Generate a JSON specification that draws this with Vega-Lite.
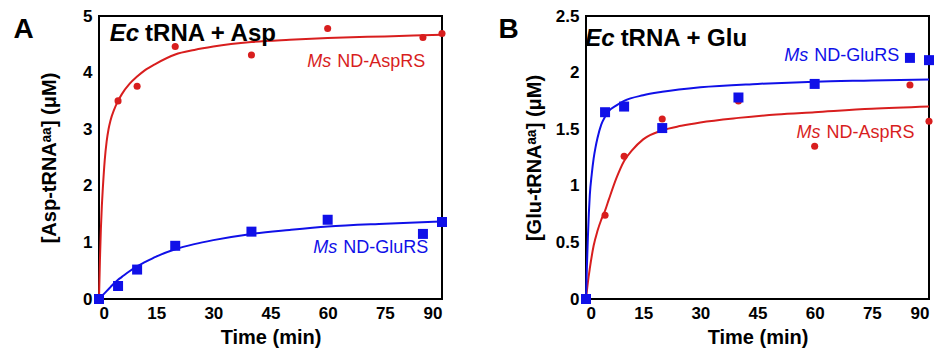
{
  "$schema": "https://vega.github.io/schema/vega-lite/v6.json",
  "background": "white",
  "padding": {"left": 12, "top": 6, "right": 0, "bottom": 0},
  "spacing": 144,
  "bounds": "flush",
  "config": {
    "font": "Liberation Sans",
    "view": {"stroke": "black", "strokeWidth": 2},
    "axis": {
      "grid": false, "ticks": false, "domain": false,
      "labelFont": "Liberation Sans", "labelFontWeight": "bold", "labelFontSize": 17, "labelColor": "black",
      "titleFont": "Liberation Sans", "titleFontWeight": "bold", "titleFontSize": 20, "titleColor": "black"
    },
    "axisX": {"labelPadding": 6, "titlePadding": 6},
    "axisY": {"labelPadding": 7}
  },
  "datasets": {
    "fitA": [
      {"series": "Ms ND-AspRS", "t": 0, "v": 0}, {"series": "Ms ND-AspRS", "t": 0.25, "v": 0.7}, {"series": "Ms ND-AspRS", "t": 0.5, "v": 1.25}, {"series": "Ms ND-AspRS", "t": 0.75, "v": 1.65}, {"series": "Ms ND-AspRS", "t": 1, "v": 1.95}, {"series": "Ms ND-AspRS", "t": 1.5, "v": 2.45}, {"series": "Ms ND-AspRS", "t": 2, "v": 2.78}, {"series": "Ms ND-AspRS", "t": 2.5, "v": 3.0}, {"series": "Ms ND-AspRS", "t": 3, "v": 3.15}, {"series": "Ms ND-AspRS", "t": 4, "v": 3.35}, {"series": "Ms ND-AspRS", "t": 5, "v": 3.5}, {"series": "Ms ND-AspRS", "t": 6, "v": 3.62}, {"series": "Ms ND-AspRS", "t": 8, "v": 3.8}, {"series": "Ms ND-AspRS", "t": 10, "v": 3.93}, {"series": "Ms ND-AspRS", "t": 12, "v": 4.04}, {"series": "Ms ND-AspRS", "t": 15, "v": 4.16}, {"series": "Ms ND-AspRS", "t": 20, "v": 4.32}, {"series": "Ms ND-AspRS", "t": 25, "v": 4.4}, {"series": "Ms ND-AspRS", "t": 30, "v": 4.46}, {"series": "Ms ND-AspRS", "t": 40, "v": 4.54}, {"series": "Ms ND-AspRS", "t": 50, "v": 4.58}, {"series": "Ms ND-AspRS", "t": 60, "v": 4.61}, {"series": "Ms ND-AspRS", "t": 75, "v": 4.64}, {"series": "Ms ND-AspRS", "t": 90, "v": 4.67},
      {"series": "Ms ND-GluRS", "t": 0, "v": 0}, {"series": "Ms ND-GluRS", "t": 1, "v": 0.07}, {"series": "Ms ND-GluRS", "t": 2, "v": 0.14}, {"series": "Ms ND-GluRS", "t": 3, "v": 0.21}, {"series": "Ms ND-GluRS", "t": 4, "v": 0.28}, {"series": "Ms ND-GluRS", "t": 5, "v": 0.34}, {"series": "Ms ND-GluRS", "t": 6, "v": 0.39}, {"series": "Ms ND-GluRS", "t": 8, "v": 0.49}, {"series": "Ms ND-GluRS", "t": 10, "v": 0.58}, {"series": "Ms ND-GluRS", "t": 12, "v": 0.65}, {"series": "Ms ND-GluRS", "t": 15, "v": 0.75}, {"series": "Ms ND-GluRS", "t": 20, "v": 0.88}, {"series": "Ms ND-GluRS", "t": 25, "v": 0.97}, {"series": "Ms ND-GluRS", "t": 30, "v": 1.04}, {"series": "Ms ND-GluRS", "t": 40, "v": 1.15}, {"series": "Ms ND-GluRS", "t": 50, "v": 1.22}, {"series": "Ms ND-GluRS", "t": 60, "v": 1.28}, {"series": "Ms ND-GluRS", "t": 75, "v": 1.33}, {"series": "Ms ND-GluRS", "t": 90, "v": 1.37}
    ],
    "ptsA": [
      {"series": "Ms ND-AspRS", "t": 0, "v": 0}, {"series": "Ms ND-AspRS", "t": 5, "v": 3.5}, {"series": "Ms ND-AspRS", "t": 10, "v": 3.76}, {"series": "Ms ND-AspRS", "t": 20, "v": 4.46}, {"series": "Ms ND-AspRS", "t": 40, "v": 4.31}, {"series": "Ms ND-AspRS", "t": 60, "v": 4.78}, {"series": "Ms ND-AspRS", "t": 85, "v": 4.62}, {"series": "Ms ND-AspRS", "t": 90, "v": 4.69},
      {"series": "Ms ND-GluRS", "t": 0, "v": 0}, {"series": "Ms ND-GluRS", "t": 5, "v": 0.23}, {"series": "Ms ND-GluRS", "t": 10, "v": 0.52}, {"series": "Ms ND-GluRS", "t": 20, "v": 0.94}, {"series": "Ms ND-GluRS", "t": 40, "v": 1.19}, {"series": "Ms ND-GluRS", "t": 60, "v": 1.4}, {"series": "Ms ND-GluRS", "t": 85, "v": 1.15}, {"series": "Ms ND-GluRS", "t": 90, "v": 1.36}
    ],
    "fitB": [
      {"series": "Ms ND-AspRS", "t": 0, "v": 0}, {"series": "Ms ND-AspRS", "t": 0.5, "v": 0.15}, {"series": "Ms ND-AspRS", "t": 1, "v": 0.27}, {"series": "Ms ND-AspRS", "t": 2, "v": 0.47}, {"series": "Ms ND-AspRS", "t": 3, "v": 0.6}, {"series": "Ms ND-AspRS", "t": 4, "v": 0.7}, {"series": "Ms ND-AspRS", "t": 5, "v": 0.78}, {"series": "Ms ND-AspRS", "t": 6, "v": 0.88}, {"series": "Ms ND-AspRS", "t": 8, "v": 1.07}, {"series": "Ms ND-AspRS", "t": 10, "v": 1.22}, {"series": "Ms ND-AspRS", "t": 12, "v": 1.31}, {"series": "Ms ND-AspRS", "t": 15, "v": 1.41}, {"series": "Ms ND-AspRS", "t": 20, "v": 1.49}, {"series": "Ms ND-AspRS", "t": 25, "v": 1.53}, {"series": "Ms ND-AspRS", "t": 30, "v": 1.56}, {"series": "Ms ND-AspRS", "t": 40, "v": 1.6}, {"series": "Ms ND-AspRS", "t": 50, "v": 1.63}, {"series": "Ms ND-AspRS", "t": 60, "v": 1.65}, {"series": "Ms ND-AspRS", "t": 75, "v": 1.68}, {"series": "Ms ND-AspRS", "t": 90, "v": 1.7},
      {"series": "Ms ND-GluRS", "t": 0, "v": 0}, {"series": "Ms ND-GluRS", "t": 0.25, "v": 0.3}, {"series": "Ms ND-GluRS", "t": 0.5, "v": 0.55}, {"series": "Ms ND-GluRS", "t": 0.75, "v": 0.76}, {"series": "Ms ND-GluRS", "t": 1, "v": 0.92}, {"series": "Ms ND-GluRS", "t": 1.5, "v": 1.1}, {"series": "Ms ND-GluRS", "t": 2, "v": 1.24}, {"series": "Ms ND-GluRS", "t": 2.5, "v": 1.34}, {"series": "Ms ND-GluRS", "t": 3, "v": 1.42}, {"series": "Ms ND-GluRS", "t": 4, "v": 1.54}, {"series": "Ms ND-GluRS", "t": 5, "v": 1.61}, {"series": "Ms ND-GluRS", "t": 6, "v": 1.66}, {"series": "Ms ND-GluRS", "t": 8, "v": 1.71}, {"series": "Ms ND-GluRS", "t": 10, "v": 1.75}, {"series": "Ms ND-GluRS", "t": 15, "v": 1.8}, {"series": "Ms ND-GluRS", "t": 20, "v": 1.83}, {"series": "Ms ND-GluRS", "t": 30, "v": 1.87}, {"series": "Ms ND-GluRS", "t": 45, "v": 1.9}, {"series": "Ms ND-GluRS", "t": 60, "v": 1.92}, {"series": "Ms ND-GluRS", "t": 75, "v": 1.93}, {"series": "Ms ND-GluRS", "t": 90, "v": 1.94}
    ],
    "ptsB": [
      {"series": "Ms ND-AspRS", "t": 0, "v": 0}, {"series": "Ms ND-AspRS", "t": 5, "v": 0.74}, {"series": "Ms ND-AspRS", "t": 10, "v": 1.26}, {"series": "Ms ND-AspRS", "t": 20, "v": 1.59}, {"series": "Ms ND-AspRS", "t": 40, "v": 1.75}, {"series": "Ms ND-AspRS", "t": 60, "v": 1.35}, {"series": "Ms ND-AspRS", "t": 85, "v": 1.89}, {"series": "Ms ND-AspRS", "t": 90, "v": 1.57},
      {"series": "Ms ND-GluRS", "t": 0, "v": 0}, {"series": "Ms ND-GluRS", "t": 5, "v": 1.65}, {"series": "Ms ND-GluRS", "t": 10, "v": 1.7}, {"series": "Ms ND-GluRS", "t": 20, "v": 1.51}, {"series": "Ms ND-GluRS", "t": 40, "v": 1.78}, {"series": "Ms ND-GluRS", "t": 60, "v": 1.9}, {"series": "Ms ND-GluRS", "t": 85, "v": 2.13}, {"series": "Ms ND-GluRS", "t": 90, "v": 2.11}
    ],
    "textA": [
      {"role": "title", "series": "Ec", "italic": "Ec", "rest": "tRNA + Asp", "t": 11.3, "v": 4.56},
      {"role": "label", "series": "Ms ND-AspRS", "italic": "Ms", "rest": "ND-AspRS", "t": 61.7, "v": 4.1},
      {"role": "label", "series": "Ms ND-GluRS", "italic": "Ms", "rest": "ND-GluRS", "t": 63.3, "v": 0.82}
    ],
    "textB": [
      {"role": "title", "series": "Ec", "italic": "Ec", "rest": "tRNA + Glu", "t": 8.3, "v": 2.235},
      {"role": "label", "series": "Ms ND-GluRS", "italic": "Ms", "rest": "ND-GluRS", "t": 59.1, "v": 2.1},
      {"role": "label", "series": "Ms ND-AspRS", "italic": "Ms", "rest": "ND-AspRS", "t": 62.3, "v": 1.425}
    ]
  },
  "hconcat": [
    {
      "width": 343, "height": 283,
      "title": {"text": "A", "orient": "left", "angle": 0, "anchor": "end", "frame": "group", "align": "right", "baseline": "top", "offset": -15, "fontSize": 28, "fontWeight": "bold", "font": "Liberation Sans", "color": "black"},
      "encoding": {
        "x": {"field": "t", "type": "quantitative", "scale": {"domain": [0, 90], "nice": false, "padding": 0, "zero": false}, "axis": {"values": [0, 15, 30, 45, 60, 75, 90], "title": "Time (min)"}},
        "y": {"field": "v", "type": "quantitative", "scale": {"domain": [0, 5], "nice": false, "padding": 0, "zero": false}, "axis": {"values": [0, 1, 2, 3, 4, 5], "title": "[Asp-tRNAᵃᵃ] (μM)", "titleX": -40}}
      },
      "layer": [
        {"data": {"name": "fitA"}, "mark": {"type": "line", "strokeWidth": 2, "interpolate": "monotone"},
         "encoding": {"color": {"field": "series", "type": "nominal", "scale": {"domain": ["Ms ND-AspRS", "Ms ND-GluRS", "Ec"], "range": ["#d81e1e", "#1010e8", "black"]}, "legend": null}}},
        {"data": {"name": "ptsA"}, "mark": {"type": "point", "filled": true, "opacity": 1},
         "encoding": {
           "color": {"field": "series", "type": "nominal", "legend": null},
           "shape": {"field": "series", "type": "nominal", "scale": {"domain": ["Ms ND-AspRS", "Ms ND-GluRS"], "range": ["circle", "square"]}, "legend": null},
           "size": {"field": "series", "type": "nominal", "scale": {"domain": ["Ms ND-AspRS", "Ms ND-GluRS"], "range": [50, 100]}, "legend": null}
         }},
        {"data": {"name": "textA"}, "transform": [{"filter": "datum.role == 'title'"}], "mark": {"type": "text", "align": "right", "baseline": "alphabetic", "dx": -3, "fontSize": 24, "fontWeight": "bold", "fontStyle": "italic"},
         "encoding": {"text": {"field": "italic"}, "color": {"field": "series", "type": "nominal", "legend": null}}},
        {"data": {"name": "textA"}, "transform": [{"filter": "datum.role == 'title'"}], "mark": {"type": "text", "align": "left", "baseline": "alphabetic", "dx": 3, "fontSize": 24, "fontWeight": "bold"},
         "encoding": {"text": {"field": "rest"}, "color": {"field": "series", "type": "nominal", "legend": null}}},
        {"data": {"name": "textA"}, "transform": [{"filter": "datum.role == 'label'"}], "mark": {"type": "text", "align": "right", "baseline": "alphabetic", "dx": -3, "fontSize": 18, "fontStyle": "italic"},
         "encoding": {"text": {"field": "italic"}, "color": {"field": "series", "type": "nominal", "legend": null}}},
        {"data": {"name": "textA"}, "transform": [{"filter": "datum.role == 'label'"}], "mark": {"type": "text", "align": "left", "baseline": "alphabetic", "dx": 3, "fontSize": 18},
         "encoding": {"text": {"field": "rest"}, "color": {"field": "series", "type": "nominal", "legend": null}}}
      ]
    },
    {
      "width": 343, "height": 283,
      "title": {"text": "B", "orient": "left", "angle": 0, "anchor": "end", "frame": "group", "align": "right", "baseline": "top", "offset": -15, "fontSize": 28, "fontWeight": "bold", "font": "Liberation Sans", "color": "black"},
      "encoding": {
        "x": {"field": "t", "type": "quantitative", "scale": {"domain": [0, 90], "nice": false, "padding": 0, "zero": false}, "axis": {"values": [0, 15, 30, 45, 60, 75, 90], "title": "Time (min)"}},
        "y": {"field": "v", "type": "quantitative", "scale": {"domain": [0, 2.5], "nice": false, "padding": 0, "zero": false}, "axis": {"values": [0, 0.5, 1, 1.5, 2, 2.5], "format": "~g", "title": "[Glu-tRNAᵃᵃ] (μM)", "titleX": -42}}
      },
      "layer": [
        {"data": {"name": "fitB"}, "mark": {"type": "line", "strokeWidth": 2, "interpolate": "monotone"},
         "encoding": {"color": {"field": "series", "type": "nominal", "scale": {"domain": ["Ms ND-AspRS", "Ms ND-GluRS", "Ec"], "range": ["#d81e1e", "#1010e8", "black"]}, "legend": null}}},
        {"data": {"name": "ptsB"}, "mark": {"type": "point", "filled": true, "opacity": 1},
         "encoding": {
           "color": {"field": "series", "type": "nominal", "legend": null},
           "shape": {"field": "series", "type": "nominal", "scale": {"domain": ["Ms ND-AspRS", "Ms ND-GluRS"], "range": ["circle", "square"]}, "legend": null},
           "size": {"field": "series", "type": "nominal", "scale": {"domain": ["Ms ND-AspRS", "Ms ND-GluRS"], "range": [50, 100]}, "legend": null}
         }},
        {"data": {"name": "textB"}, "transform": [{"filter": "datum.role == 'title'"}], "mark": {"type": "text", "align": "right", "baseline": "alphabetic", "dx": -3, "fontSize": 24, "fontWeight": "bold", "fontStyle": "italic"},
         "encoding": {"text": {"field": "italic"}, "color": {"field": "series", "type": "nominal", "legend": null}}},
        {"data": {"name": "textB"}, "transform": [{"filter": "datum.role == 'title'"}], "mark": {"type": "text", "align": "left", "baseline": "alphabetic", "dx": 3, "fontSize": 24, "fontWeight": "bold"},
         "encoding": {"text": {"field": "rest"}, "color": {"field": "series", "type": "nominal", "legend": null}}},
        {"data": {"name": "textB"}, "transform": [{"filter": "datum.role == 'label'"}], "mark": {"type": "text", "align": "right", "baseline": "alphabetic", "dx": -3, "fontSize": 18, "fontStyle": "italic"},
         "encoding": {"text": {"field": "italic"}, "color": {"field": "series", "type": "nominal", "legend": null}}},
        {"data": {"name": "textB"}, "transform": [{"filter": "datum.role == 'label'"}], "mark": {"type": "text", "align": "left", "baseline": "alphabetic", "dx": 3, "fontSize": 18},
         "encoding": {"text": {"field": "rest"}, "color": {"field": "series", "type": "nominal", "legend": null}}}
      ]
    }
  ]
}
